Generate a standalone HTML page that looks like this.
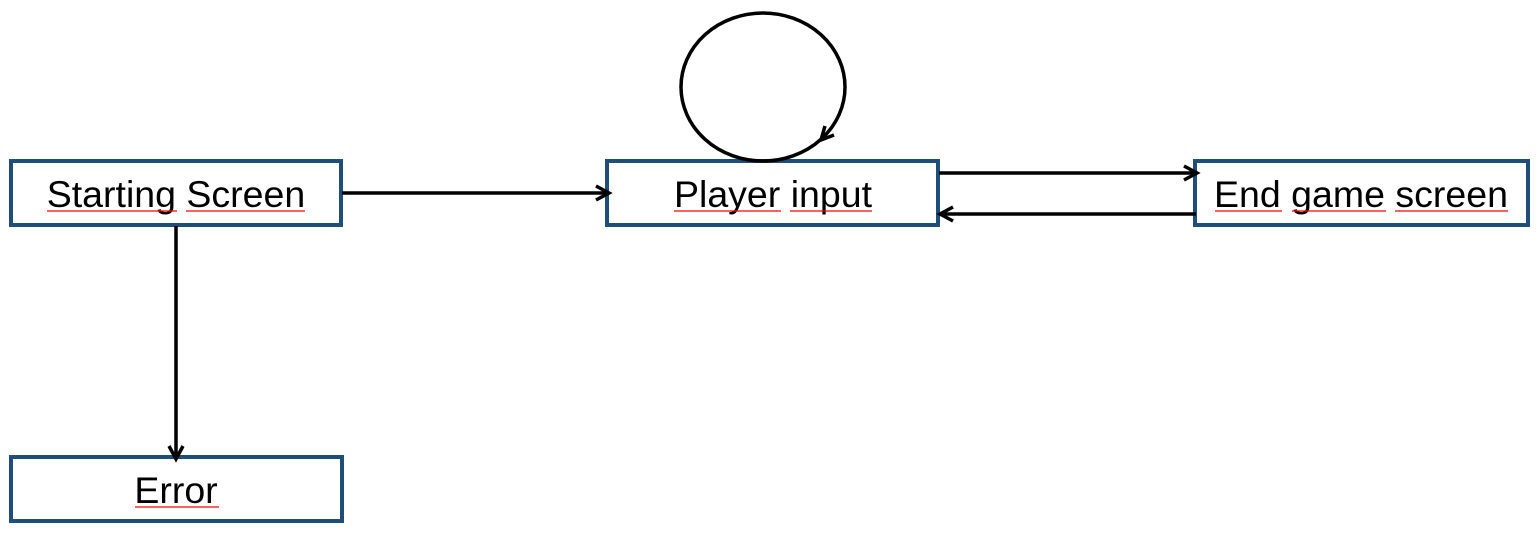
<!DOCTYPE html>
<html><head><style>
body{margin:0;background:#fff;width:1540px;height:532px;overflow:hidden;font-family:"Liberation Sans",sans-serif;}
</style></head><body>
<svg width="1540" height="532" xmlns="http://www.w3.org/2000/svg">
<g fill="#fff" stroke="#1f4e79" stroke-width="4">
<rect x="11" y="161" width="330" height="64"/>
<rect x="607" y="161" width="331" height="64"/>
<rect x="1195" y="161" width="333" height="64"/>
<rect x="11" y="457" width="331" height="64"/>
</g>
<g stroke="#000" stroke-width="3.5" fill="none">
<ellipse cx="763" cy="87" rx="82" ry="74"/>
<line x1="342" y1="193" x2="609" y2="193"/>
<polyline points="596,186 609,193 596,200"/>
<line x1="939" y1="173" x2="1197" y2="173"/>
<polyline points="1184,166 1197,173 1184,180"/>
<line x1="1196" y1="214" x2="940" y2="214"/>
<polyline points="953,207 940,214 953,221"/>
<line x1="176" y1="226" x2="176" y2="459"/>
<polyline points="169,446 176,459 183,446"/>
<polyline points="825,126 821,140 834,135"/>
</g>
<g font-size="37.5" text-anchor="middle" fill="#000">
<text x="176" y="207">Starting Screen</text>
<text x="773" y="207">Player input</text>
<text x="1361" y="207">End game screen</text>
<text x="176" y="503">Error</text>
</g>
<g stroke="#f00" stroke-width="1.3">
<line x1="47" y1="211" x2="177" y2="211"/><line x1="186" y1="211" x2="305" y2="211"/>
<line x1="674" y1="211" x2="781" y2="211"/><line x1="790" y1="211" x2="872" y2="211"/>
<line x1="1215" y1="211" x2="1282" y2="211"/><line x1="1292" y1="211" x2="1386" y2="211"/><line x1="1395" y1="211" x2="1508" y2="211"/>
<line x1="135" y1="507" x2="219" y2="507"/>
</g>
</svg>
</body></html>
